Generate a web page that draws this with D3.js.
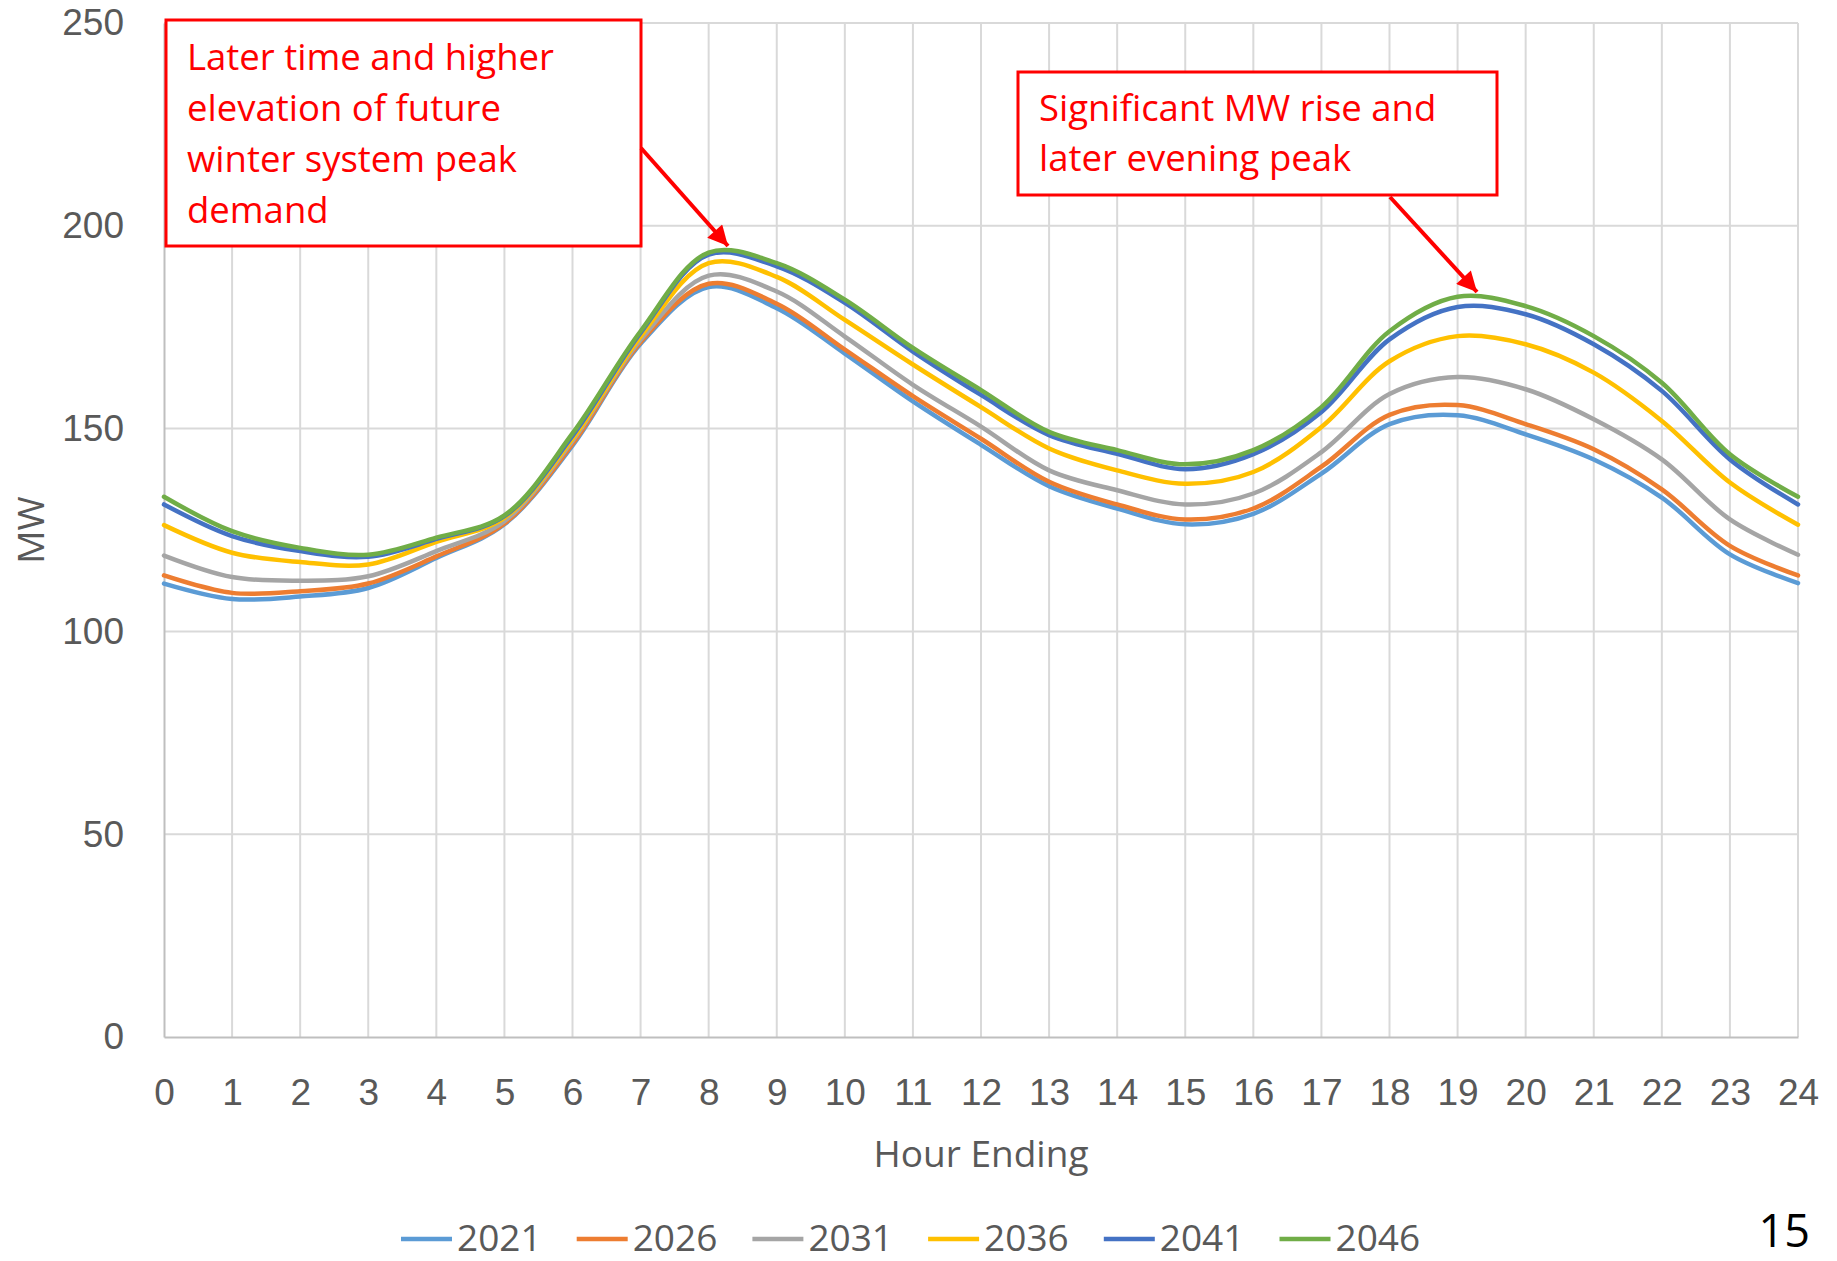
<!DOCTYPE html>
<html lang="en">
<head>
<meta charset="utf-8">
<title>Winter Peak Day Load Shape</title>
<script src="https://d3js.org/d3.v7.min.js"></script>
<style>
    body { margin: 0; background: #ffffff; }
    svg { display: block; background: #ffffff; font-family: "Open Sans", sans-serif; }
    .tick text { fill: #595959; font-size: 37px; }
    .axis-title { fill: #595959; font-size: 37px; }
    .note { fill: #ff0000; font-size: 36.5px; }
</style>
</head>
<body>
<div id="chart"></div>
<script>
"use strict";

var hours = d3.range(0, 25);
var years = ["2021", "2026", "2031", "2036", "2041", "2046"];
var colors = ["#5b9bd5", "#ed7d31", "#a5a5a5", "#ffc000", "#4472c4", "#70ad47"];
var y_ticks = [0, 50, 100, 150, 200, 250];

var mw_2021 = [111.8, 108.0, 108.6, 110.7, 118.1, 126.4, 145.8, 170.9, 184.9, 179.7, 168.5, 156.7, 146.0, 135.8, 130.3, 126.4, 129.0, 138.9, 151.1, 153.3, 148.6, 142.4, 133.0, 119.0, 111.9];
var mw_2026 = [113.8, 109.5, 109.9, 111.8, 118.5, 126.6, 146.2, 171.3, 185.7, 180.8, 169.5, 158.0, 147.5, 136.9, 131.3, 127.6, 130.3, 140.6, 153.4, 155.8, 151.1, 144.9, 135.0, 121.1, 113.8];
var mw_2031 = [118.7, 113.4, 112.5, 113.6, 119.8, 127.2, 147.0, 171.9, 187.7, 183.8, 172.7, 160.8, 150.5, 139.7, 134.8, 131.3, 134.0, 144.2, 158.5, 162.7, 159.7, 152.3, 142.4, 127.6, 118.9];
var mw_2036 = [126.2, 119.4, 117.1, 116.5, 122.1, 128.0, 147.5, 172.7, 190.8, 187.4, 176.8, 165.8, 155.3, 145.1, 139.7, 136.4, 139.3, 150.4, 166.6, 172.8, 170.8, 163.8, 151.9, 136.7, 126.3];
var mw_2041 = [131.3, 123.5, 119.8, 118.4, 122.8, 128.4, 148.2, 173.6, 192.9, 190.0, 181.0, 169.0, 158.3, 148.4, 143.8, 140.0, 143.7, 154.1, 172.0, 180.0, 178.2, 170.8, 159.3, 142.4, 131.3];
var mw_2046 = [133.2, 124.7, 120.6, 118.9, 123.1, 128.6, 148.8, 174.0, 193.4, 190.8, 181.8, 169.9, 159.5, 149.2, 144.7, 141.2, 144.7, 155.3, 174.0, 182.5, 180.2, 172.8, 161.3, 143.7, 133.2];
var all_series = [mw_2021, mw_2026, mw_2031, mw_2036, mw_2041, mw_2046];

var note_left = ["Later time and higher", "elevation of future", "winter system peak", "demand"];
var note_right = ["Significant MW rise and", "later evening peak"];

var svg_width = 1837;
var svg_height = 1261;
var plot = { left: 164, right: 1798, top: 23, bottom: 1037 };

var svg = d3.select("#chart")
    .append("svg")
    .attr("width", svg_width)
    .attr("height", svg_height);

var x = d3.scaleLinear().domain([0, 24]).range([plot.left, plot.right]);
var y = d3.scaleLinear().domain([0, 250]).range([plot.bottom, plot.top]);

// gridlines
var grid = svg.append("g").attr("stroke", "#d9d9d9").attr("stroke-width", 2);
grid.selectAll("line.h")
    .data(y_ticks.slice(1))
    .enter()
    .append("line")
    .attr("x1", plot.left).attr("x2", plot.right)
    .attr("y1", d => y(d)).attr("y2", d => y(d));
grid.selectAll("line.v")
    .data(hours.slice(1))
    .enter()
    .append("line")
    .attr("x1", d => x(d)).attr("x2", d => x(d))
    .attr("y1", plot.top).attr("y2", plot.bottom);

// axes
var x_axis = d3.axisBottom(x).tickValues(hours).tickFormat(d3.format("d")).tickSize(0).tickPadding(42);
var gx = svg.append("g")
    .attr("transform", "translate(0," + plot.bottom + ")")
    .call(x_axis);
gx.select(".domain").attr("stroke", "#bfbfbf").attr("stroke-width", 2);

var y_axis = d3.axisLeft(y).tickValues(y_ticks).tickSize(0).tickPadding(40);
var gy = svg.append("g")
    .attr("transform", "translate(" + plot.left + ",0)")
    .call(y_axis);
gy.select(".domain").attr("stroke", "#bfbfbf").attr("stroke-width", 2);
svg.selectAll(".tick text").attr("font-family", null).attr("font-size", null);

svg.append("text")
    .attr("class", "axis-title")
    .attr("x", (plot.left + plot.right) / 2)
    .attr("y", 1167)
    .attr("text-anchor", "middle")
    .text("Hour Ending");
svg.append("text")
    .attr("class", "axis-title")
    .attr("transform", "translate(44," + ((plot.top + plot.bottom) / 2) + ") rotate(-90)")
    .attr("text-anchor", "middle")
    .text("MW");

// series
var line = d3.line()
    .x((d, i) => x(hours[i]))
    .y(d => y(d))
    .curve(d3.curveCatmullRom.alpha(0.5));

svg.append("g")
    .selectAll("path")
    .data(all_series)
    .enter()
    .append("path")
    .attr("d", line)
    .attr("fill", "none")
    .attr("stroke", (d, i) => colors[i])
    .attr("stroke-width", 4.5)
    .attr("stroke-linejoin", "round")
    .attr("stroke-linecap", "round");

// legend (kept a few px up so the glyph boxes stay inside the page)
var legend = svg.append("g").attr("transform", "translate(401,1239)");
var items = legend.selectAll("g")
    .data(years)
    .enter()
    .append("g")
    .attr("transform", (d, i) => "translate(" + (i * 175.7) + ",0)");
items.append("line")
    .attr("x1", 0).attr("x2", 51)
    .attr("stroke", (d, i) => colors[i])
    .attr("stroke-width", 4.5);
items.append("text")
    .attr("class", "axis-title")
    .attr("x", 56)
    .attr("y", 12)
    .text(d => d);

// annotations
svg.append("defs")
    .append("marker")
    .attr("id", "arrow")
    .attr("markerUnits", "userSpaceOnUse")
    .attr("viewBox", "0 0 10 10")
    .attr("refX", 10).attr("refY", 5)
    .attr("markerWidth", 24).attr("markerHeight", 20)
    .attr("orient", "auto")
    .append("path")
    .attr("d", "M0,0 L10,5 L0,10 Z")
    .attr("fill", "#ff0000");

function note(box, lines, text_x, first_baseline, step)
{
    svg.append("rect")
        .attr("x", box[0]).attr("y", box[1])
        .attr("width", box[2]).attr("height", box[3])
        .attr("fill", "#ffffff")
        .attr("stroke", "#ff0000")
        .attr("stroke-width", 3);
    svg.append("g").selectAll("text")
        .data(lines)
        .enter()
        .append("text")
        .attr("class", "note")
        .attr("x", text_x)
        .attr("y", (d, i) => first_baseline + i * step)
        .text(d => d);
}
note([166, 20, 475, 226], note_left, 187, 70, 51);
note([1018, 72, 479, 123], note_right, 1039, 121, 50);

svg.append("line")
    .attr("x1", 641).attr("y1", 148)
    .attr("x2", 728).attr("y2", 246)
    .attr("stroke", "#ff0000").attr("stroke-width", 4)
    .attr("marker-end", "url(#arrow)");
svg.append("line")
    .attr("x1", 1390).attr("y1", 197)
    .attr("x2", 1477).attr("y2", 292)
    .attr("stroke", "#ff0000").attr("stroke-width", 4)
    .attr("marker-end", "url(#arrow)");

// slide number
svg.append("text")
    .attr("x", 1810)
    .attr("y", 1247)
    .attr("text-anchor", "end")
    .attr("fill", "#000000")
    .attr("font-size", 45)
    .text("15");
</script>
</body>
</html>
